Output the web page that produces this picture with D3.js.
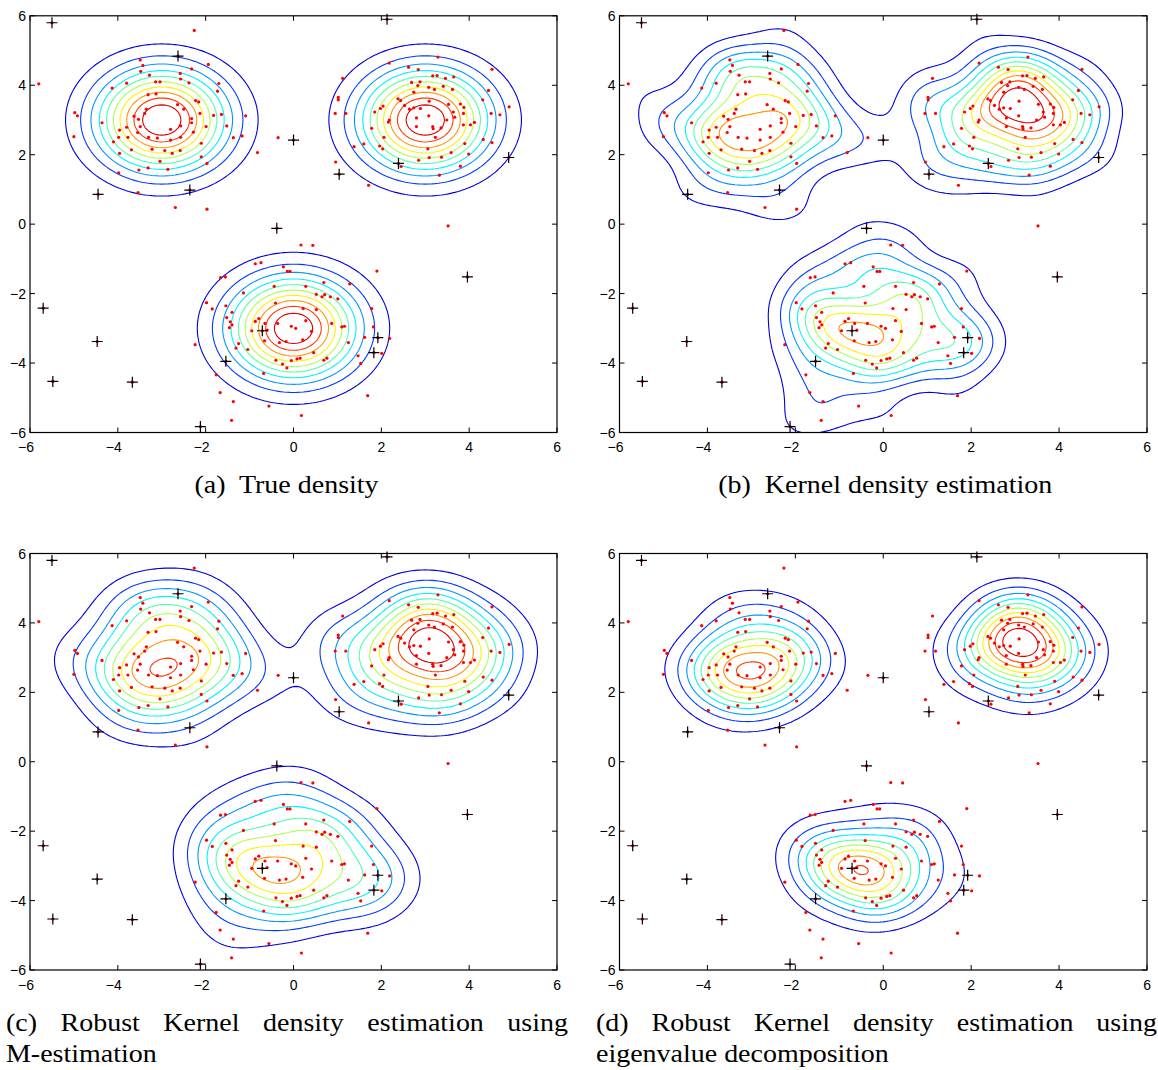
<!DOCTYPE html>
<html><head><meta charset="utf-8">
<script src="https://cdn.jsdelivr.net/npm/d3@7"></script>
<style>body{margin:0;background:#fff} svg{display:block}</style>
</head><body>
<svg id="fig" width="1158" height="1070"></svg>
<script>
// ---------------- data ----------------
const clusterA = [[-2.26,5.58],[-5.80,4.04],[-3.49,4.73],[-3.43,4.57],[-3.48,4.40],[-3.28,4.29],[-1.94,4.60],[-2.32,4.47],[-2.58,4.34],[-2.57,4.18],[-2.38,4.07],[-3.14,4.10],[-3.04,4.10],[-3.80,4.06],[-4.13,3.92],[-1.70,4.05],[-1.73,3.83],[-3.31,3.73],[-3.13,3.75],[-2.23,3.56],[-2.16,3.52],[-2.64,3.44],[-2.50,3.31],[-3.35,3.31],[-3.39,3.19],[-3.63,3.11],[-3.53,3.02],[-3.49,2.81],[-3.55,2.64],[-3.77,2.50],[-3.96,2.71],[-3.80,2.79],[-4.36,2.92],[-4.98,3.21],[-4.92,3.12],[-5.00,2.52],[-2.32,3.04],[-2.32,2.92],[-2.57,2.83],[-2.80,2.73],[-2.13,3.19],[-1.82,3.13],[-1.64,3.16],[-1.99,2.81],[-2.28,2.65],[-2.57,2.50],[-2.80,2.42],[-3.10,2.48],[-3.30,2.50],[-3.98,2.50],[-4.10,2.37],[-3.69,2.14],[-3.96,2.04],[-3.22,2.16],[-2.93,2.12],[-2.76,2.04],[-2.58,2.12],[-2.10,2.33],[-2.10,1.94],[-1.97,1.75],[-3.04,1.81],[-3.31,1.62],[-3.52,1.56],[-2.86,1.58],[-1.52,2.83],[-1.37,2.49],[-1.17,2.54],[-1.09,3.12],[-0.82,2.06],[-0.35,2.49],[-3.98,1.48],[-3.54,0.91],[-2.69,0.48],[-1.97,0.43]];
const clusterB = [[3.29,4.81],[2.18,4.64],[2.62,4.52],[2.84,4.45],[4.52,4.46],[1.12,4.20],[3.17,4.27],[3.27,4.28],[3.46,4.20],[3.65,4.24],[2.69,4.08],[2.88,4.10],[2.83,3.99],[3.08,3.94],[3.21,3.88],[3.41,3.97],[3.62,3.88],[2.74,3.80],[4.44,3.85],[1.02,3.65],[1.02,3.58],[2.38,3.61],[2.44,3.56],[3.09,3.54],[3.53,3.45],[3.80,3.46],[3.88,3.36],[4.31,3.58],[4.91,3.38],[2.53,3.42],[2.64,3.31],[2.74,3.35],[2.89,3.33],[1.98,3.33],[2.04,3.40],[1.85,3.23],[0.95,3.19],[1.19,3.19],[2.18,3.00],[2.16,2.94],[2.80,3.06],[3.08,3.12],[3.64,3.23],[3.67,3.08],[3.49,3.00],[3.87,3.19],[4.50,3.19],[4.70,3.15],[2.80,2.81],[3.17,2.81],[3.18,2.75],[3.36,2.77],[3.87,2.86],[4.12,2.93],[4.03,2.86],[1.78,2.76],[2.06,2.50],[3.23,2.50],[3.06,2.17],[3.90,2.32],[4.32,2.44],[4.52,2.35],[1.38,2.23],[1.60,2.31],[1.96,2.25],[2.03,2.17],[3.59,2.06],[3.99,2.02],[2.85,1.84],[3.09,1.92],[3.37,1.93],[0.96,1.79],[2.45,1.66],[3.80,1.67],[3.32,1.41],[1.71,1.12]];
const clusterC = [[-0.87,-1.14],[-0.74,-1.11],[-1.66,-1.54],[-1.55,-1.52],[-0.23,-1.23],[-0.14,-1.36],[-0.08,-1.36],[-0.44,-1.79],[-1.14,-1.98],[-1.98,-2.26],[-1.85,-2.44],[-1.54,-2.35],[-0.41,-2.27],[-1.40,-2.54],[-0.79,-2.72],[-0.87,-2.80],[-1.52,-2.69],[-1.44,-2.81],[-1.40,-2.90],[-1.46,-2.98],[-0.65,-2.86],[-0.36,-2.86],[-0.95,-3.07],[-0.60,-3.05],[-0.05,-2.94],[-0.66,-3.36],[-0.32,-3.41],[-0.17,-3.38],[-1.25,-3.44],[-1.31,-3.57],[-1.04,-3.61],[-2.24,-3.47],[-0.40,-3.92],[-0.25,-4.03],[-0.15,-4.14],[-0.05,-3.93],[-0.68,-4.30],[-1.76,-4.34],[-1.67,-4.85],[-1.37,-5.11],[-0.56,-5.24],[-1.41,-5.65],[3.52,-0.05],[0.17,-0.60],[0.44,-0.61],[1.90,-1.35],[0.69,-1.68],[1.28,-1.72],[0.28,-1.79],[0.52,-2.02],[0.65,-2.09],[0.71,-2.03],[0.84,-2.09],[1.01,-2.15],[0.22,-2.43],[0.52,-2.46],[1.78,-2.43],[0.28,-2.78],[0.87,-2.86],[1.10,-2.96],[1.16,-2.94],[1.82,-2.96],[0.05,-3.00],[0.41,-3.09],[0.21,-3.33],[1.62,-3.26],[2.19,-3.29],[1.25,-3.41],[0.46,-3.70],[2.01,-3.72],[1.47,-3.79],[0.08,-3.88],[0.15,-3.86],[0.69,-3.92],[0.76,-3.86],[1.53,-4.01],[1.69,-4.94],[0.18,-5.51]];
const outliers = [[-5.5,5.8],[-2.63,4.84],[-4.45,0.86],[-2.36,0.98],[0.0,2.42],[2.13,5.9],[1.04,1.44],[2.39,1.75],[4.9,1.92],[-0.38,-0.12],[-5.7,-2.42],[-4.47,-3.38],[-5.48,-4.53],[-3.67,-4.55],[-1.54,-3.95],[-0.71,-3.07],[-2.12,-5.83],[3.96,-1.52],[1.92,-3.27],[1.83,-3.70]];
// true mixture model of panel (a)
const trueCenters = [[-3,3],[3,3],[0,-3]];
const trueSigma = 1.0;
const tickValues = [-6,-4,-2,0,2,4,6];
const captionA = "(a)  True density";
const captionB = "(b)  Kernel density estimation";
const captionC = ["(c)","Robust","Kernel","density","estimation","using"];
const captionC2 = "M-estimation";
const captionD = ["(d)","Robust","Kernel","density","estimation","using"];
const captionD2 = "eigenvalue decomposition";

// ---------------- layout ----------------
const panels = [
  {x0:30,  x1:557,  y0:15.8,  y1:432.5},
  {x0:619.5,x1:1147, y0:15.8, y1:432.5},
  {x0:30,  x1:557,  y0:553.5, y1:970},
  {x0:619.5,x1:1147, y0:553.5, y1:970}
];
const svg = d3.select("#fig");

// ---------------- density computations ----------------
const allPts = clusterA.concat(clusterB, clusterC, outliers);
const N = 161, step = 12/(N-1);
function grid(fn){
  const v = new Float64Array(N*N);
  for (let j=0;j<N;j++){ const y=-6+j*step; for (let i=0;i<N;i++){ v[j*N+i]=fn(-6+i*step,y); } }
  return v;
}
function kde(pts, w, h){
  const s2 = 2*h*h;
  return (x,y)=>{ let s=0; for (let k=0;k<pts.length;k++){ const dx=x-pts[k][0], dy=y-pts[k][1]; s+=w[k]*Math.exp(-(dx*dx+dy*dy)/s2);} return s; };
}
function trueDensity(x,y){
  let s=0; for (const c of trueCenters){ const dx=x-c[0],dy=y-c[1]; s+=Math.exp(-(dx*dx+dy*dy)/(2*trueSigma*trueSigma)); } return s;
}
// M-estimation style: down-weight low-density (outlying) samples
function robustWeights(pts, h, c, p){
  const f = kde(pts, pts.map(()=>1), h);
  const fv = pts.map(q=>f(q[0],q[1]));
  const med = d3.median(fv);
  return fv.map(v=>Math.min(1, Math.pow(v/(c*med), p)));
}
// eigen-decomposition: project uniform weights on the leading eigenvectors of the kernel matrix
function eigenWeights(pts, h, k, iters){
  const n = pts.length, s2 = 2*h*h;
  const K = new Float64Array(n*n);
  for (let i=0;i<n;i++) for (let j=0;j<n;j++){ const dx=pts[i][0]-pts[j][0], dy=pts[i][1]-pts[j][1]; K[i*n+j]=Math.exp(-(dx*dx+dy*dy)/s2); }
  let Q = d3.range(k).map(c=>{ const s=Math.floor(c*n/k)+5; return d3.range(n).map(i=>K[i*n+s]+1e-3); });
  const orth = ()=>{
    for (let c=0;c<k;c++){
      for (let d=0;d<c;d++){ let dot=0; for (let i=0;i<n;i++) dot+=Q[c][i]*Q[d][i]; for (let i=0;i<n;i++) Q[c][i]-=dot*Q[d][i]; }
      let nr=0; for (let i=0;i<n;i++) nr+=Q[c][i]*Q[c][i]; nr=Math.sqrt(nr); for (let i=0;i<n;i++) Q[c][i]/=nr;
    }
  };
  orth();
  for (let it=0; it<iters; it++){
    Q = Q.map(q=>{ const z=new Float64Array(n); for (let i=0;i<n;i++){ let s=0; for (let j=0;j<n;j++) s+=K[i*n+j]*q[j]; z[i]=s; } return z; });
    orth();
  }
  const w = new Float64Array(n);
  for (let c=0;c<k;c++){ const s=d3.sum(Q[c]); for (let i=0;i<n;i++) w[i]+=Q[c][i]*s; }
  return Array.from(w, v=>Math.max(0,v));
}
const ones = allPts.map(()=>1);
const hB = 0.55, hC = 0.66, hD = 0.6;
const wC = robustWeights(allPts, hC, 0.5, 1.5);
const wD = eigenWeights(allPts, hD, 3, 120);
const densities = [
  grid(trueDensity),
  grid(kde(allPts, ones, hB)),
  grid(kde(allPts, wC, hC)),
  grid(kde(allPts, wD, hD))
];

function jet(t){
  const c = v=>Math.max(0,Math.min(1,v));
  const r=c(1.5-Math.abs(4*t-3)), g=c(1.5-Math.abs(4*t-2)), b=c(1.5-Math.abs(4*t-1));
  return d3.rgb(r*255,g*255,b*255).toString();
}

// ---------------- draw panels ----------------
panels.forEach((P, pi)=>{
  const xS = d3.scaleLinear().domain([-6,6]).range([P.x0,P.x1]);
  const yS = d3.scaleLinear().domain([-6,6]).range([P.y1,P.y0]);
  const g = svg.append("g");
  const clipId = "clip"+pi;
  g.append("clipPath").attr("id",clipId).append("rect")
    .attr("x",P.x0).attr("y",P.y0).attr("width",P.x1-P.x0).attr("height",P.y1-P.y0);

  const vals = densities[pi];
  const mx = d3.max(vals), mn = d3.min(vals);
  const levels = d3.range(1,11).map(k=>mn+(mx-mn)*k/11);
  const contours = d3.contours().size([N,N]).thresholds(levels)(vals);
  const proj = d3.geoTransform({point:function(x,y){
    this.stream.point(xS(-6+(x-0.5)*step), yS(-6+(y-0.5)*step));
  }});
  const path = d3.geoPath(proj);
  g.append("g").attr("clip-path",`url(#${clipId})`)
    .selectAll("path").data(contours).join("path")
    .attr("d",path).attr("fill","none")
    .attr("stroke",d=>jet((d.value-mn)/(mx-mn)))
    .attr("stroke-width",1.1);

  // points
  const inl = clusterA.concat(clusterB, clusterC);
  g.append("g").selectAll("circle").data(inl.concat(outliers)).join("circle")
    .attr("cx",d=>xS(d[0])).attr("cy",d=>yS(d[1])).attr("r",1.6).attr("fill","#ff0000");
  g.append("g").selectAll("path").data(outliers).join("path")
    .attr("d",d=>`M${xS(d[0])-5.5},${yS(d[1])}H${xS(d[0])+5.5}M${xS(d[0])},${yS(d[1])-5.5}V${yS(d[1])+5.5}`)
    .attr("stroke","#000").attr("stroke-width",1.2);

  // axes box and ticks
  g.append("rect").attr("x",P.x0).attr("y",P.y0).attr("width",P.x1-P.x0).attr("height",P.y1-P.y0)
    .attr("fill","none").attr("stroke","#000").attr("stroke-width",1.2);
  const tl = 5;
  const tk = g.append("g").attr("stroke","#000").attr("stroke-width",1);
  tickValues.forEach(v=>{
    const x=xS(v), y=yS(v);
    tk.append("line").attr("x1",x).attr("x2",x).attr("y1",P.y1).attr("y2",P.y1-tl);
    tk.append("line").attr("x1",x).attr("x2",x).attr("y1",P.y0).attr("y2",P.y0+tl);
    tk.append("line").attr("y1",y).attr("y2",y).attr("x1",P.x0).attr("x2",P.x0+tl);
    tk.append("line").attr("y1",y).attr("y2",y).attr("x1",P.x1).attr("x2",P.x1-tl);
  });
  const fmt = v => (v<0?"\u2212":"")+Math.abs(v);
  const lab = g.append("g").attr("font-family","'Liberation Sans', Arial, sans-serif").attr("font-size",14).attr("fill","#000");
  tickValues.forEach(v=>{
    lab.append("text").attr("x",xS(v)+4).attr("y",P.y1+19.5).attr("text-anchor","end").text(fmt(v));
    lab.append("text").attr("x",P.x0-4).attr("y",yS(v)+5).attr("text-anchor","end").text(fmt(v));
  });
});

// ---------------- captions ----------------
const cap = svg.append("g").attr("font-family","'Liberation Serif', 'Times New Roman', serif").attr("font-size",26).attr("fill","#000");
function measure(s){ const t=cap.append("text").style("white-space","pre").text(s); const w=t.node().getComputedTextLength(); t.remove(); return w; }
const kScale = 334/measure(captionB);
function centered(s, cx, y){
  const w = measure(s)*kScale;
  cap.append("text").style("white-space","pre").attr("x",cx).attr("y",y).attr("text-anchor","middle")
    .attr("textLength",w).attr("lengthAdjust","spacingAndGlyphs").text(s);
}
function leftLine(s, x, y){
  const w = measure(s)*kScale;
  cap.append("text").style("white-space","pre").attr("x",x).attr("y",y)
    .attr("textLength",w).attr("lengthAdjust","spacingAndGlyphs").text(s);
}
function justified(words, xa, xb, y){
  const ws = words.map(w=>measure(w)*kScale);
  const gap = (xb-xa-d3.sum(ws))/(words.length-1);
  let x = xa;
  words.forEach((w,i)=>{
    cap.append("text").attr("x",x).attr("y",y).attr("textLength",ws[i]).attr("lengthAdjust","spacingAndGlyphs").text(w);
    x += ws[i]+gap;
  });
}
centered(captionA, (panels[0].x0+panels[0].x1)/2 - 7, 493);
centered(captionB, (panels[1].x0+panels[1].x1)/2 + 2, 493);
justified(captionC, 6, 568, 1031);
leftLine(captionC2, 6, 1062);
justified(captionD, 596, 1157, 1031);
leftLine(captionD2, 596, 1062);
</script>
</body></html>
